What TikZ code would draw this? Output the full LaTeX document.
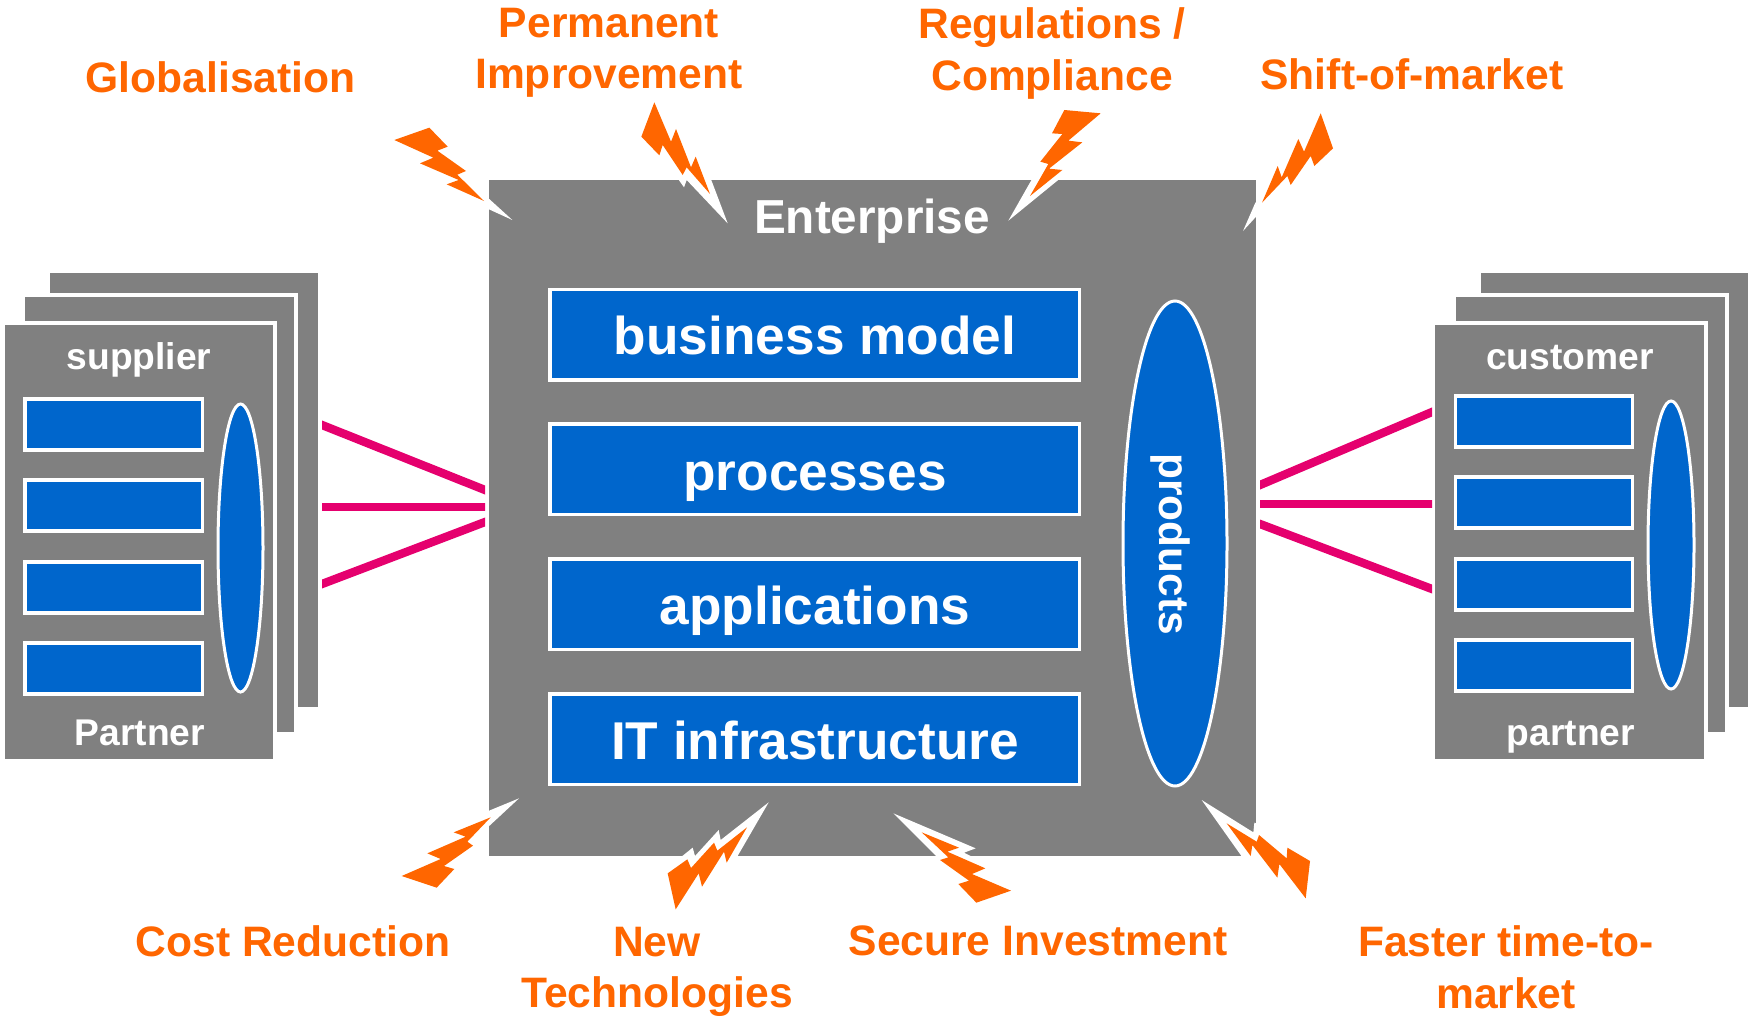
\documentclass[tikz,border=0pt]{standalone}
\usepackage{fontspec}
\setmainfont{Liberation Sans}
\usetikzlibrary{shapes.geometric}
\definecolor{cardgray}{HTML}{808080}
\definecolor{boxblue}{HTML}{0066CC}
\definecolor{boltorange}{HTML}{FF6600}
\definecolor{linkpink}{HTML}{E5006E}
\newcommand\pxbox[6]{% style, name, x1,y1,x2,y2
  \pgfmathsetmacro\bw{(#5-#3)*0.5}\pgfmathsetmacro\bh{(#6-#4)*0.5}
  \pgfmathsetmacro\bx{(#3+#5)/2}\pgfmathsetmacro\by{(#4+#6)/2}
  \node[#1,minimum width=\bw pt,minimum height=\bh pt] (#2) at (\bx,\by) {};}
\tikzset{
  x=0.5pt,y=-0.5pt,
  cardbox/.style={rectangle,fill=cardgray,draw=white,line width=2pt,inner sep=0pt,outer sep=0pt},
  entbox/.style={rectangle,fill=cardgray,draw=none,inner sep=0pt,outer sep=0pt},
  bluebox/.style={rectangle,fill=boxblue,draw=white,line width=1.6pt,inner sep=0pt,outer sep=0pt},
  blueoval/.style={ellipse,fill=boxblue,draw=white,line width=1.5pt,inner sep=0pt,outer sep=0pt},
  link/.style={draw=linkpink,line width=4.2pt,shorten <=-4pt,shorten >=-4pt},
  boltback/.style={fill=white,draw=none},
  boltfront/.style={fill=boltorange,draw=none},
  zoomed/.style={x=0.16667pt,y=-0.16667pt},
  wlabel/.style={text=white,font=\bfseries\fontsize{18.6}{22}\selectfont,anchor=base,inner sep=0pt},
  blabel/.style={text=white,font=\bfseries\fontsize{26.6}{30}\selectfont,anchor=base,inner sep=0pt},
  olabel/.style={text=boltorange,font=\bfseries\fontsize{21.3}{25.5}\selectfont,anchor=base,align=center,inner sep=0pt},
}
\begin{document}
\begin{tikzpicture}
\useasboundingbox (0,0) rectangle (1748,1016);
% left stack
\pxbox{cardbox}{sb}{48}{271}{320}{709}
\pxbox{cardbox}{sm}{23}{295}{296}{734}
\pxbox{cardbox}{sf}{3}{323}{275}{761}
\pxbox{bluebox}{s1}{25}{399}{202.5}{450}
\pxbox{bluebox}{s2}{25}{480}{202.5}{531}
\pxbox{bluebox}{s3}{25}{562}{202.5}{613}
\pxbox{bluebox}{s4}{25}{643}{202.5}{694}
\pxbox{blueoval}{so}{218}{404}{263}{692}
\node[wlabel] (supplier) at (139,369) {supplier};
\node[wlabel] (partnerL) at (140,745) {Partner};
% right stack
\pxbox{cardbox}{cb}{1479}{271}{1752}{709}
\pxbox{cardbox}{cm}{1454}{295}{1727}{734}
\pxbox{cardbox}{cf}{1433}{323}{1706}{761}
\pxbox{bluebox}{c1}{1455.5}{396}{1632.5}{447}
\pxbox{bluebox}{c2}{1455.5}{477}{1632.5}{528}
\pxbox{bluebox}{c3}{1455.5}{559}{1632.5}{610}
\pxbox{bluebox}{c4}{1455.5}{640}{1632.5}{691}
\pxbox{blueoval}{co}{1648}{401}{1694}{689}
\node[wlabel] (customer) at (1570,369) {customer};
\node[wlabel] (partnerR) at (1571,745) {partner};
% enterprise
\pxbox{entbox}{ent}{489}{180}{1256}{856}
\pxbox{bluebox}{e1}{550}{289.5}{1079.5}{380}
\pxbox{bluebox}{e2}{550}{424}{1079.5}{514.5}
\pxbox{bluebox}{e3}{550}{559}{1079.5}{649.5}
\pxbox{bluebox}{e4}{550}{694}{1079.5}{784.5}
\pxbox{blueoval}{eo}{1123}{301}{1227}{786}
\node[text=white,font=\bfseries\fontsize{23.85}{28}\selectfont,anchor=base,inner sep=0pt] (enterprise) at (872,234) {Enterprise};
\node[blabel] (t1) at (815,354.5) {business model};
\node[blabel] (t2) at (815,490) {processes};
\node[blabel] (t3) at (815,624.5) {applications};
\node[blabel] (t4) at (815,759) {IT infrastructure};
\node[text=white,font=\bfseries\fontsize{21.2}{25}\selectfont,rotate=-90,inner sep=0pt] (products) at (1170,544) {products};
% links
\coordinate (la1) at (322,425); \coordinate (lb1) at (485,490);
\coordinate (la2) at (322,507); \coordinate (lb2) at (485,507);
\coordinate (la3) at (322,584); \coordinate (lb3) at (485,522);
\coordinate (ra1) at (1260,485); \coordinate (rb1) at (1432,412);
\coordinate (ra2) at (1260,504); \coordinate (rb2) at (1432,504);
\coordinate (ra3) at (1260,524); \coordinate (rb3) at (1432,589);
\begin{scope}
\clip (322,300) rectangle (485,700);
\draw[link] (la1) -- (lb1);
\draw[link] (la2) -- (lb2);
\draw[link] (la3) -- (lb3);
\end{scope}
\begin{scope}
\clip (1260,300) rectangle (1432,700);
\draw[link] (ra1) -- (rb1);
\draw[link] (ra2) -- (rb2);
\draw[link] (ra3) -- (rb3);
\end{scope}
% bolts top-left
\begin{scope}[shift={(380,90)},zoomed]
\fill[boltback] (397,390) -- (320,320) -- (200,250) -- (250,330) -- (327,358) -- cycle;
\fill[boltfront] (43,150) -- (148,113) -- (203,170) -- (172,182) -- (258,243) -- (232,254) -- (312,333) -- (200,283) -- (236,270) -- (120,220) -- (160,203) -- cycle;
\fill[boltback] (1043,400) -- (993,268) -- (960,200) -- (890,200) -- (895,268) -- (912,292) -- (920,270) -- cycle;
\fill[boltfront] (823,37) -- (873,155) -- (888,117) -- (933,232) -- (947,200) -- (990,312) -- (920,232) -- (908,255) -- (848,165) -- (838,196) -- (784,140) -- cycle;
\end{scope}
% bolts top-right
\begin{scope}[shift={(980,90)},zoomed]
\fill[boltback] (85,392) -- (160,260) -- (240,260) -- (237,268) -- cycle;
\fill[boltfront] (253,60) -- (362,70) -- (265,152) -- (307,157) -- (207,236) -- (247,240) -- (150,318) -- (205,222) -- (181,215) -- (247,132) -- (216,130) -- cycle;
\fill[boltback] (789,423) -- (826,338) -- (860,320) -- (830,378) -- cycle;
\fill[boltfront] (1022,70) -- (1059,175) -- (1003,228) -- (992,198) -- (932,285) -- (922,258) -- (846,338) -- (893,228) -- (905,262) -- (955,147) -- (972,185) -- cycle;
\end{scope}
% bolts bottom-left
\begin{scope}[shift={(380,780)},zoomed]
\fill[boltback] (417,55) -- (320,95) -- (320,145) -- cycle;
\fill[boltfront] (65,288) -- (182,237) -- (142,220) -- (257,170) -- (221,157) -- (332,112) -- (262,185) -- (279,197) -- (192,258) -- (223,267) -- (170,323) -- cycle;
\fill[boltback] (1166,67) -- (1060,250) -- (900,250) -- (907,228) -- (938,203) -- (945,228) -- (1016,150) -- (1022,180) -- cycle;
\fill[boltfront] (1101,142) -- (1040,248) -- (1032,215) -- (966,320) -- (956,280) -- (887,388) -- (863,280) -- (922,238) -- (933,264) -- (1002,188) -- (1012,212) -- cycle;
\end{scope}
% bolts bottom-right
\begin{scope}[shift={(860,780)},zoomed]
\fill[boltback] (100,100) -- (347,205) -- (312,218) -- (340,232) -- (232,232) -- cycle;
\fill[boltfront] (185,157) -- (297,203) -- (262,215) -- (376,265) -- (336,282) -- (453,332) -- (349,368) -- (295,312) -- (327,302) -- (240,240) -- (265,232) -- cycle;
\fill[boltback] (1025,60) -- (1180,157) -- (1183,128) -- (1260,150) -- (1260,232) -- (1147,232) -- cycle;
\fill[boltfront] (1100,130) -- (1190,185) -- (1197,165) -- (1280,235) -- (1282,203) -- (1350,243) -- (1337,355) -- (1258,252) -- (1252,293) -- (1177,195) -- (1172,228) -- cycle;
\end{scope}
% labels
\node[olabel] (glob) at (220.5,92.5) {Globalisation};
\node[olabel] (perm1) at (609,38) {Permanent};
\node[olabel] (perm2) at (609,89) {Improvement};
\node[olabel] (reg1) at (1052,39) {Regulations /};
\node[olabel] (reg2) at (1052,91) {Compliance};
\node[olabel] (shift) at (1412,90) {Shift-of-market};
\node[olabel] (cost) at (293,956) {Cost Reduction};
\node[olabel] (new1) at (657,956) {New};
\node[olabel] (new2) at (657,1007) {Technologies};
\node[olabel] (sec) at (1038,955) {Secure Investment};
\node[olabel] (fast1) at (1506,956) {Faster time-to-};
\node[olabel] (fast2) at (1506,1008) {market};
\end{tikzpicture}
\end{document}
